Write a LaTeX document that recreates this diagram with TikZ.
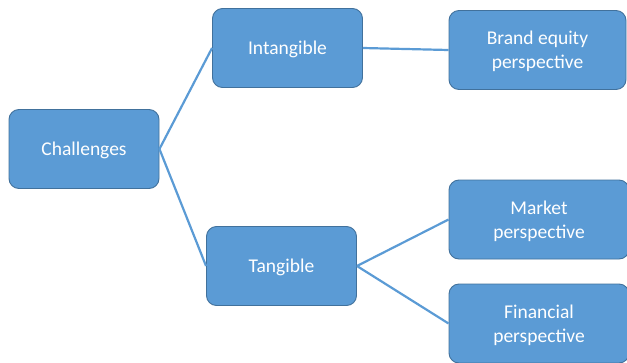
\documentclass[tikz,border=0pt]{standalone}
\usepackage{fontspec}
\setmainfont{Carlito}
\usepackage{xcolor}
\definecolor{boxblue}{HTML}{5B9BD5}
\definecolor{boxedge}{HTML}{41719C}

\begin{document}
\begin{tikzpicture}[x=1pt, y=-1pt, font=\fontsize{19.5}{24}\selectfont,
   box/.style={rectangle, rounded corners=10pt, fill=boxblue, draw=boxedge, line width=0.9pt,
      text=white, align=center, text depth=0pt, minimum width=150pt, minimum height=79pt, inner sep=0pt}]
      \useasboundingbox (0,0) rectangle (627,362);
      \node[box, name=ch] at (84,149) {Challenges};
      \node[box, name=in] at (287.5,48) {Intangible};
      \node[box, name=ta] at (281.5,266) {Tangible};
      \node[box, name=br, minimum width=177pt] at (537.5,50) {Brand equity\\perspective};
      \node[box, name=ma, minimum width=180pt] at (539,219.5) {Market\\perspective};
      \node[box, name=fi, minimum width=180pt] at (539,323.5) {Financial\\perspective};

      \path[-, draw=boxblue, line width=2.2pt]
         (ch.east) edge (in.west)
         (ch.east) edge (ta.west)
         (in.east) edge (br.west)
         (ta.east) edge (ma.west)
         (ta.east) edge (fi.west);
   \end{tikzpicture}
\end{document}
